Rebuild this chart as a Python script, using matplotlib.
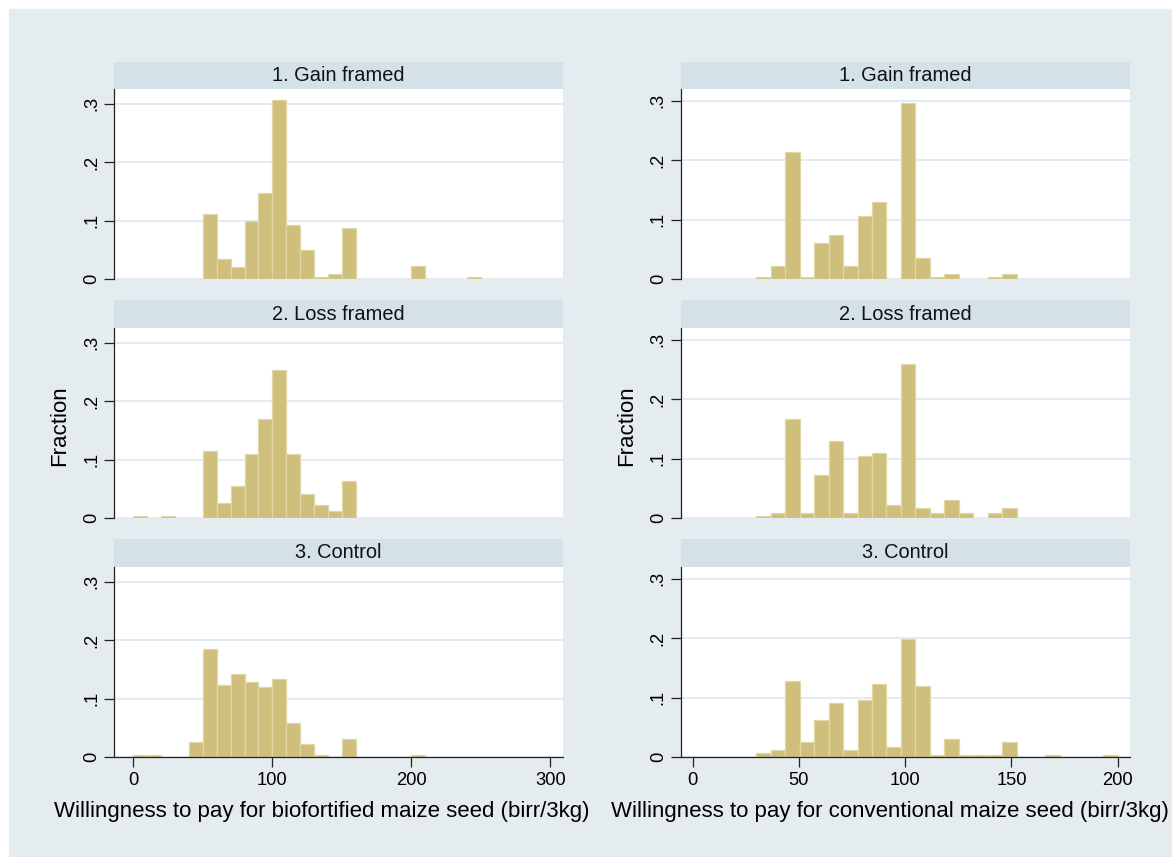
import numpy as np
import matplotlib
matplotlib.use("Agg")
import matplotlib.pyplot as plt
from matplotlib.patches import Rectangle

plt.rcParams['font.family'] = ['Liberation Sans', 'DejaVu Sans']

# Fractions per bin
panel_titles = ["1. Gain framed", "2. Loss framed", "3. Control"]

# biofortified seed: 25 bins of width 10 starting at 0
bio_start, bio_width = 0, 10
bio_gain = [0, 0, 0, 0, 0, 0.111, 0.035, 0.021, 0.100, 0.147, 0.306, 0.092, 0.050,
            0.003, 0.009, 0.087, 0, 0, 0, 0, 0.022, 0, 0, 0, 0.003]
bio_loss = [0.003, 0, 0.003, 0, 0, 0.114, 0.026, 0.054, 0.110, 0.170, 0.254, 0.110, 0.041,
            0.022, 0.012, 0.063, 0, 0, 0, 0, 0, 0, 0, 0, 0]
bio_ctrl = [0.003, 0.003, 0, 0, 0.026, 0.185, 0.124, 0.142, 0.129, 0.119, 0.133, 0.059, 0.022,
            0.003, 0, 0.031, 0, 0, 0, 0, 0.004, 0, 0, 0, 0]

# conventional seed: 25 bins of width 6.8 starting at 30
conv_start, conv_width = 30, 6.8
conv_gain = [0.003, 0.022, 0.213, 0.003, 0.060, 0.074, 0.022, 0.106, 0.129, 0, 0.296, 0.036,
             0.003, 0.008, 0, 0, 0.003, 0.008, 0, 0, 0, 0, 0, 0, 0]
conv_loss = [0.003, 0.008, 0.166, 0.008, 0.073, 0.129, 0.008, 0.105, 0.110, 0.022, 0.259, 0.017,
             0.008, 0.031, 0.008, 0, 0.008, 0.017, 0, 0, 0, 0, 0, 0, 0]
conv_ctrl = [0.007, 0.012, 0.128, 0.026, 0.063, 0.091, 0.012, 0.096, 0.123, 0.016, 0.198, 0.119,
             0.003, 0.030, 0.003, 0.003, 0.003, 0.026, 0, 0, 0.003, 0, 0, 0, 0.003]

y_ticks = [0, 0.1, 0.2, 0.3]
y_labels = ["0", ".1", ".2", ".3"]
bio_xticks = [0, 100, 200, 300]
conv_xticks = [0, 50, 100, 150, 200]
bio_xlabel = "Willingness to pay for biofortified maize seed (birr/3kg)"
conv_xlabel = "Willingness to pay for conventional maize seed (birr/3kg)"

# colours
bg = "#e4ecf0"
strip_col = "#d4e1e8"
grid_col = "#e2eaef"
bar_fill = "#cfbf7c"
bar_edge = "#e2d6a4"

W, H = 1172, 857
fig = plt.figure(figsize=(W / 100, H / 100), dpi=100)
fig.patch.set_facecolor("white")
fig.patches.append(Rectangle((9 / W, 0), (W - 9) / W, (H - 9) / H,
                             transform=fig.transFigure, color=bg, zorder=-10))


def px_axes(x0, y0, x1, y1):
    return fig.add_axes([x0 / W, 1 - y1 / H, (x1 - x0) / W, (y1 - y0) / H])


strip_tops = [62, 300, 539]
plot_tops = [89, 328, 567]
baselines = [279, 518, 757]

columns = [
    dict(x0=114.3, x1=563, xlim=(-13.7, 309.1), ytop=0.3253, start=bio_start, width=bio_width,
         data=[bio_gain, bio_loss, bio_ctrl], xticks=bio_xticks, xlabel=bio_xlabel,
         label_x=322, frac_x=60),
    dict(x0=680.7, x1=1130, xlim=(-5.63, 205.8), ytop=0.3199, start=conv_start, width=conv_width,
         data=[conv_gain, conv_loss, conv_ctrl], xticks=conv_xticks, xlabel=conv_xlabel,
         label_x=890, frac_x=627),
]

for col in columns:
    for r in range(3):
        # strip with the panel title
        sax = px_axes(col["x0"], strip_tops[r], col["x1"], plot_tops[r])
        sax.set_facecolor(strip_col)
        sax.set_xticks([])
        sax.set_yticks([])
        for s in sax.spines.values():
            s.set_visible(False)
        sax.text(0.5, 0.5, panel_titles[r], ha="center", va="center",
                 fontsize=14.4, color="#111111", transform=sax.transAxes)

        ax = px_axes(col["x0"], plot_tops[r], col["x1"], baselines[r])
        ax.set_facecolor("white")
        vals = np.array(col["data"][r])
        lefts = col["start"] + col["width"] * np.arange(len(vals))
        keep = vals > 0
        ax.bar(lefts[keep], vals[keep], width=col["width"], align="edge",
               color=bar_fill, edgecolor=bar_edge, linewidth=0.9, zorder=2)
        ax.set_xlim(col["xlim"])
        ax.set_ylim(0, col["ytop"])
        ax.set_axisbelow(True)
        ax.grid(axis="y", color=grid_col, linewidth=1.3)
        ax.set_yticks(y_ticks)
        ax.set_yticklabels(y_labels, rotation=90, va="center", fontsize=13.2)
        ax.tick_params(axis="y", length=7, width=0.9, pad=3, color="#222222")
        ax.spines["top"].set_visible(False)
        ax.spines["right"].set_visible(False)
        ax.spines["left"].set_color("#222222")
        ax.spines["left"].set_linewidth(0.9)
        if r < 2:
            ax.spines["bottom"].set_visible(False)
            ax.tick_params(axis="x", bottom=False, labelbottom=False)
        else:
            ax.spines["bottom"].set_color("#222222")
            ax.spines["bottom"].set_linewidth(0.9)
            ax.set_xticks(col["xticks"])
            ax.tick_params(axis="x", length=7, width=0.9, pad=4, labelsize=13.2,
                           color="#222222")
        if r == 1:
            fig.text(col["frac_x"] / W, 1 - 426 / H, "Fraction", rotation=90,
                     ha="center", va="center", fontsize=16)
    fig.text(col["label_x"] / W, 1 - 812 / H, col["xlabel"], ha="center", va="center",
             fontsize=16)

plt.savefig("out.png", dpi=100)
